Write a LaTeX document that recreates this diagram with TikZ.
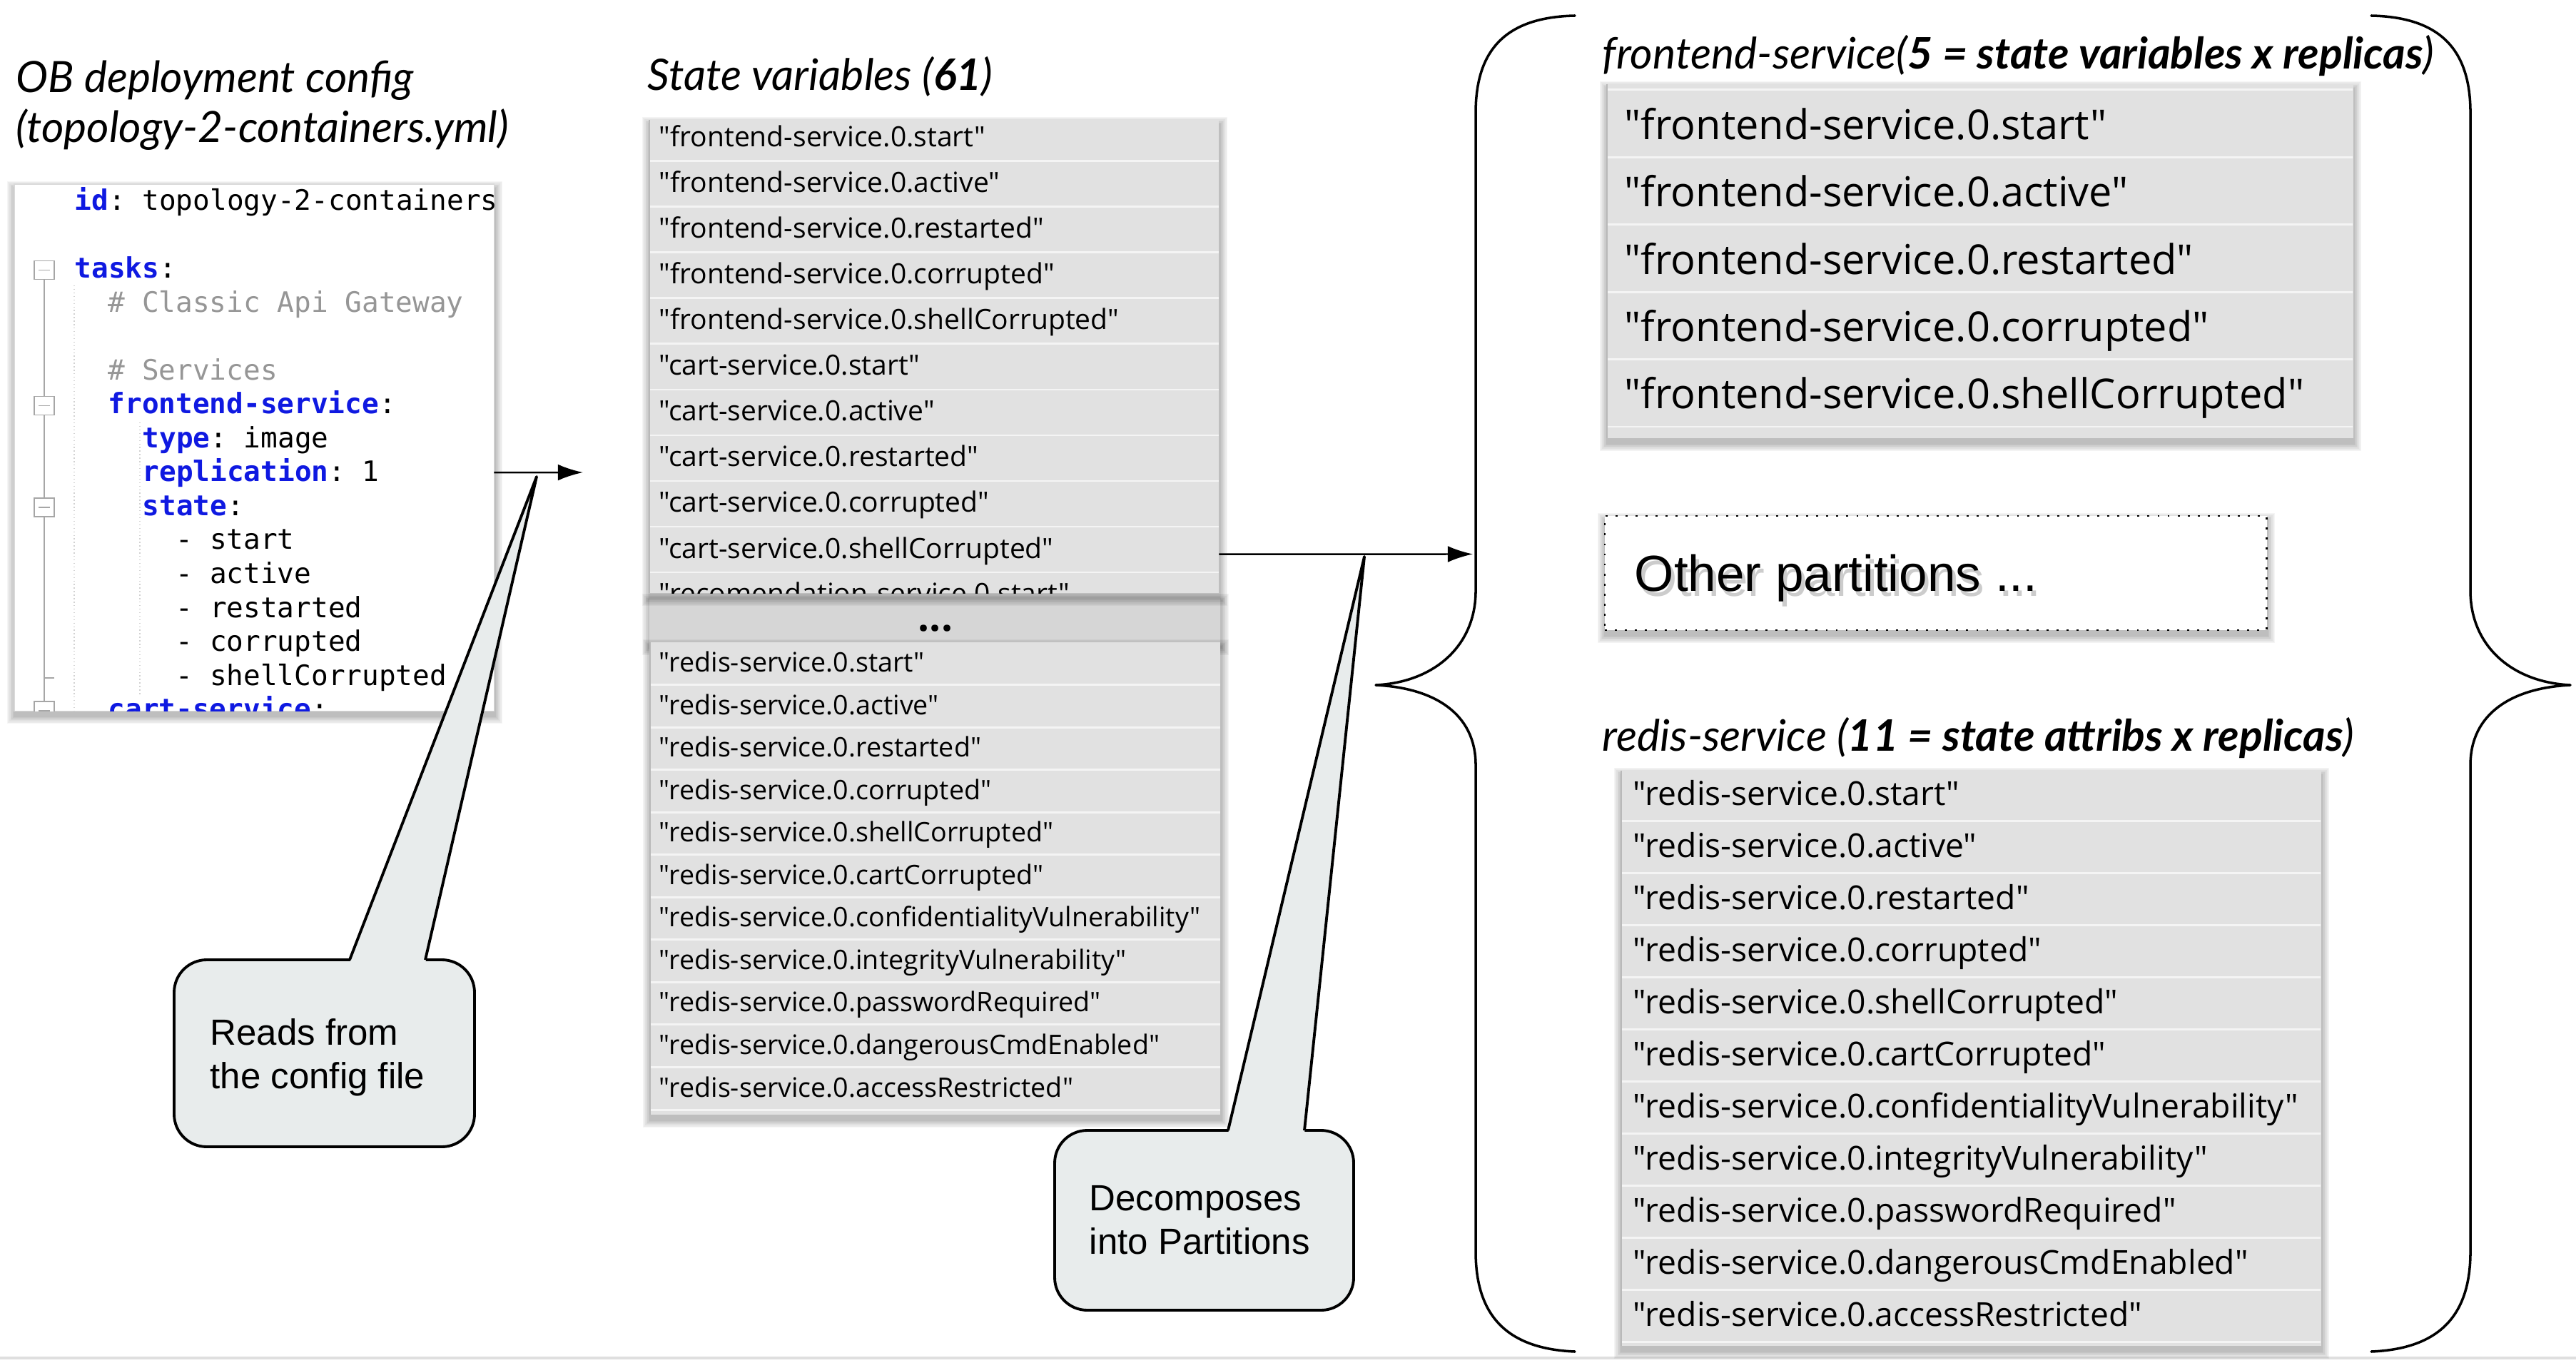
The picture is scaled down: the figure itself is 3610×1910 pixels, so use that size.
\documentclass[tikz,border=0pt]{standalone}
\usepackage{fontspec}
\setmonofont{DejaVu Sans Mono}
\newfontfamily\lato{Lato}
\newfontfamily\osans{Open Sans}[Ligatures=TeXOff]
\newfontfamily\helv{Liberation Sans}
\usetikzlibrary{arrows.meta}
\definecolor{kwblue}{RGB}{15,25,225}
\definecolor{cmtgray}{RGB}{150,150,150}
\definecolor{rowfill}{RGB}{225,225,225}
\definecolor{rowsep}{RGB}{244,244,244}
\definecolor{callfill}{RGB}{232,236,236}
\definecolor{dotsfill}{RGB}{214,214,214}
\newcommand{\kw}[1]{\textcolor{kwblue}{\bfseries #1}}
\newcommand{\softshadow}[4]{\foreach \k in {1,...,7}{\fill[black,opacity=0.04] ({#1-\k*1.6+1},{#2-\k*1.6+7}) rectangle ({#3+\k*1.6+1},{#4+\k*1.6+7});}}
\tikzset{
  arr/.style={line width=0.7pt, -{Latex[length=10pt,width=6.5pt]}},
  lbl/.style={anchor=base west, inner sep=0pt},
  codetxt/.style={lbl, font=\ttfamily\fontsize{11.2}{13}\selectfont},
  cmt/.style={codetxt, text=cmtgray},
  item/.style={lbl, font=\osans\fontsize{11.1}{13}\selectfont},
  itemb/.style={lbl, font=\osans\fontsize{10.7}{13}\selectfont},
  fitem/.style={lbl, font=\osans\fontsize{16.4}{19}\selectfont},
  ritem/.style={lbl, font=\osans\fontsize{13.15}{16}\selectfont},
  ttl/.style={lbl, font=\lato\itshape\fontsize{17.2}{20}\selectfont},
  hdr/.style={lbl, font=\lato\itshape\fontsize{17.3}{20}\selectfont},
  calltxt/.style={lbl, font=\helv\fontsize{14.5}{17}\selectfont},
  callout/.style={draw=black, line width=1.1pt, fill=callfill},
  box/.style={anchor=north west, inner sep=0pt, outer sep=0pt, rectangle},
  brace/.style={line width=1pt, line cap=round, line join=round},
  sepline/.style={draw=rowsep, line width=0.85pt},
  fold/.style={draw=gray!70, line width=0.5pt},
}
\begin{document}
\begin{tikzpicture}[x=0.01cm,y=-0.01cm]
\useasboundingbox (0,0) rectangle (3610,1910);
\fill[white] (0,0) rectangle (3610,1910);
\draw[gray!25, line width=1pt] (0,1903) -- (3610,1903);

% ---------- left titles ----------
\node[ttl] (t1a) at (22,130) {OB deployment config};
\node[ttl] (t1b) at (22,200) {(topology-2-containers.yml)};

% ---------- code box ----------
\softshadow{20}{258}{692}{996}
\node[box, minimum width=6.72cm, minimum height=7.38cm, fill=white, draw=gray!30, line width=0.4pt] (codebox) at (20,258) {};
\begin{scope}
\clip (20,258) rectangle (692,996);
\draw[gray!35, densely dotted, line width=0.4pt] (104,400) -- (104,996);
\draw[gray!35, densely dotted, line width=0.4pt] (196,592) -- (196,975);
\draw[fold] (62,391) -- (62,996);
\draw[fold] (62,950) -- (76,950);
\foreach \yy in {378.5,568.5,711,996}{
  \draw[fold, fill=white] (48,\yy-13) rectangle (76,\yy+13);
  \draw[fold] (54,\yy) -- (70,\yy);
}
\node[codetxt] (c0) at (104,295) {\kw{id}: topology-2-containers};
\node[codetxt] (c2) at (104,390) {\kw{tasks}:};
\node[cmt] (c3) at (151,437.5) {\# Classic Api Gateway};
\node[cmt] (c5) at (151,532.5) {\# Services};
\node[codetxt] (c6) at (151,580) {\kw{frontend-service}:};
\node[codetxt] (c7) at (199,627.5) {\kw{type}: image};
\node[codetxt] (c8) at (199,675) {\kw{replication}: 1};
\node[codetxt] (c9) at (199,722.5) {\kw{state}:};
\node[codetxt] (c10) at (246,770) {- start};
\node[codetxt] (c11) at (246,817.5) {- active};
\node[codetxt] (c12) at (246,865) {- restarted};
\node[codetxt] (c13) at (246,912.5) {- corrupted};
\node[codetxt] (c14) at (246,960) {- shellCorrupted};
\node[codetxt] (c15) at (151,1007.5) {\kw{cart-service}:};
\end{scope}

% ---------- state variables ----------
\node[hdr] (svt) at (907,127) {State variables (\textbf{61})};

% dots bar
\softshadow{910}{836}{1710}{900}
\node[box, minimum width=8cm, minimum height=0.64cm, fill=dotsfill] (dotsbar) at (910,836) {};
\node[anchor=base, inner sep=0pt, font=\osans\bfseries\fontsize{16}{18}\selectfont] (dotstxt) at (1311,884) {...};

% list 1
\softshadow{910}{168}{1708}{831}
\node[box, minimum width=7.98cm, minimum height=6.63cm, fill=rowfill] (list1) at (910,168) {};
\begin{scope}
\clip (910,168) rectangle (1708,831);
\foreach \yy in {226,290,...,802} \draw[sepline] (910,\yy) -- (1708,\yy);
\foreach \txt [count=\i from 0] in {frontend-service.0.start,frontend-service.0.active,frontend-service.0.restarted,frontend-service.0.corrupted,frontend-service.0.shellCorrupted,cart-service.0.start,cart-service.0.active,cart-service.0.restarted,cart-service.0.corrupted,cart-service.0.shellCorrupted,recomendation-service.0.start}
  \node[item] (la\i) at (923,{206+64*\i}) {"\txt"};
\end{scope}
\draw[gray!55, line width=0.7pt] (910,168) -- (910,831);

% list 2
\softshadow{911}{900}{1710}{1562}
\node[box, minimum width=7.99cm, minimum height=6.62cm, fill=rowfill] (list2) at (911,900) {};
\foreach \k in {0,...,10} \draw[sepline] (911,{959.5+59.55*\k}) -- (1710,{959.5+59.55*\k});
\foreach \txt [count=\i from 0] in {start,active,restarted,corrupted,shellCorrupted,cartCorrupted,confidentialityVulnerability,integrityVulnerability,passwordRequired,dangerousCmdEnabled,accessRestricted}
  \node[itemb] (lb\i) at (923,{941.5+59.55*\i}) {"redis-service.0.\txt"};
\draw[gray!55, line width=0.7pt] (911,900) -- (911,1562);

% ---------- right side ----------
\node[hdr] (fhdr) at (2245,97) {frontend-service(\textbf{5 = state variables x replicas})};
\softshadow{2252}{118}{3297}{614}
\node[box, minimum width=10.45cm, minimum height=4.96cm, fill=rowfill] (flist) at (2252,118) {};
\foreach \k in {0,...,5} \draw[sepline] (2252,{126+94.4*\k}) -- (3297,{126+94.4*\k});
\foreach \txt [count=\i from 0] in {start,active,restarted,corrupted,shellCorrupted}
  \node[fitem] (lf\i) at (2276,{195.4+94.4*\i}) {"frontend-service.0.\txt"};
\draw[gray!55, line width=0.7pt] (2252,118) -- (2252,614);

\softshadow{2249}{723}{3176}{883}
\node[box, minimum width=9.27cm, minimum height=1.6cm, fill=white, draw=black, line width=0.7pt, dash pattern=on 0.8pt off 3.2pt] (other) at (2249,723) {};
\node[lbl, font=\helv\fontsize{20.2}{24}\selectfont, text=black, opacity=0.2] (othersh) at (2295,835) {Other partitions ...};
\node[lbl, font=\helv\fontsize{20.2}{24}\selectfont] (othertxt) at (2290,828) {Other partitions ...};

\node[hdr] (rhdr) at (2245,1052) {redis-service (\textbf{11 = state attribs x replicas})};
\softshadow{2272}{1080}{3252}{1886}
\node[box, minimum width=9.8cm, minimum height=8.06cm, fill=rowfill] (rlist) at (2272,1080) {};
\foreach \k in {0,...,10} \draw[sepline] (2272,{1150+73*\k}) -- (3252,{1150+73*\k});
\foreach \txt [count=\i from 0] in {start,active,restarted,corrupted,shellCorrupted,cartCorrupted,confidentialityVulnerability,integrityVulnerability,passwordRequired,dangerousCmdEnabled,accessRestricted}
  \node[ritem] (lr\i) at (2288,{1128+73*\i}) {"redis-service.0.\txt"};
\draw[gray!55, line width=0.7pt] (2272,1080) -- (2272,1886);

% ---------- braces ----------
\coordinate (lbtop) at (2207,22);
\coordinate (lbcusp) at (1928,960);
\coordinate (lbbot) at (2207,1894);
\draw[brace] (lbtop) .. controls (2110,24) and (2068,70) .. (2068,158) -- (2068,828)
  .. controls (2068,905) and (2010,956) .. (lbcusp)
  .. controls (2010,964) and (2068,1000) .. (2068,1072) -- (2068,1754)
  .. controls (2068,1842) and (2110,1890) .. (lbbot);
\coordinate (rbtop) at (3323,22);
\coordinate (rbcusp) at (3602,960);
\coordinate (rbbot) at (3323,1894);
\draw[brace] (rbtop) .. controls (3420,24) and (3462,70) .. (3462,158) -- (3462,828)
  .. controls (3462,905) and (3520,956) .. (rbcusp)
  .. controls (3520,964) and (3462,1000) .. (3462,1072) -- (3462,1754)
  .. controls (3462,1842) and (3420,1890) .. (rbbot);

% ---------- arrows ----------
\path (codebox.east) ++(0,35) coordinate (a1s);
\coordinate (a1e) at (817,662);
\draw[arr] (a1s) -- (a1e);
\path (list1.east) ++(0,277) coordinate (a2s);
\coordinate (a2e) at (2064,776.5);
\draw[arr] (a2s) -- (a2e);

% ---------- callouts ----------
\coordinate (p1tip) at (752,668);
\draw[callout, rounded corners=13pt] (244,1345) rectangle (665,1607);
\fill[callfill] (490,1349) -- (p1tip) -- (596,1349) -- cycle;
\draw[line width=1.1pt, line join=round] (490,1345) -- (p1tip) -- (596,1345);
\node[calltxt] (call1a) at (294,1464) {Reads from};
\node[calltxt] (call1b) at (294,1525) {the config file};

\coordinate (p2tip) at (1912,780);
\draw[callout, rounded corners=13pt] (1478,1584) rectangle (1897,1836);
\fill[callfill] (1721,1588) -- (p2tip) -- (1828,1588) -- cycle;
\draw[line width=1.1pt, line join=round] (1721,1584) -- (p2tip) -- (1828,1584);
\node[calltxt] (call2a) at (1526,1696) {Decomposes};
\node[calltxt] (call2b) at (1526,1757) {into Partitions};
\end{tikzpicture}
\end{document}
